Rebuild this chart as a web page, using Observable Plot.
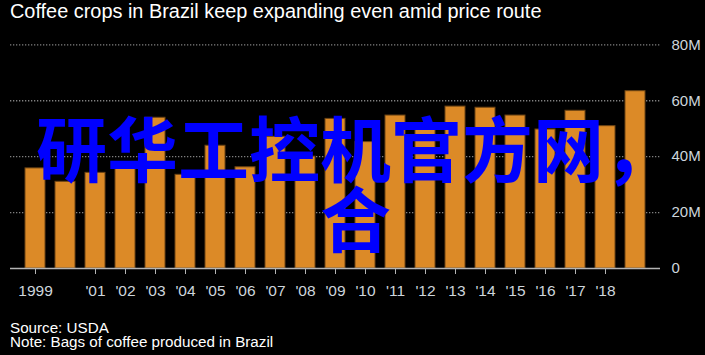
<!DOCTYPE html>
<html>
<head>
<meta charset="utf-8">
<script src="https://cdn.jsdelivr.net/npm/d3@7"></script>
<script src="https://cdn.jsdelivr.net/npm/@observablehq/plot@0.6"></script>
<style>
  html, body { margin: 0; padding: 0; background: #000; }
  #wrap { position: relative; width: 705px; height: 355px; background: #000; overflow: hidden; }
  #chart { position: absolute; left: 0; top: 0; }
  .t { position: absolute; color: #fff; font-family: "Liberation Sans", Arial, sans-serif; white-space: nowrap; line-height: 1; }
  #title { left: 10px; top: 1.5px; font-size: 19.9px; }
  #src { left: 10px; top: 320.4px; font-size: 15.2px; }
  #note { left: 10px; top: 333.8px; font-size: 15.2px; }
  #wm { position: absolute; left: 0; top: 110px; width: 711px; text-align: center;
        font-family: "Noto Sans CJK SC", sans-serif; font-weight: 700; font-size: 71px;
        line-height: 70px; color: #0000ff; white-space: nowrap; }
</style>
</head>
<body>
<div id="wrap">
  <div id="chart"></div>
  <div class="t" id="title"></div>
  <div class="t" id="src"></div>
  <div class="t" id="note"></div>
  <div id="wm"></div>
</div>
<script>
const title = "Coffee crops in Brazil keep expanding even amid price route";
const source = "Source: USDA";
const note = "Note: Bags of coffee produced in Brazil";
const overlayLines = ["研华工控机官方网，", "合"];

const years = [1999, 2000, 2001, 2002, 2003, 2004, 2005, 2006, 2007, 2008, 2009,
               2010, 2011, 2012, 2013, 2014, 2015, 2016, 2017, 2018, 2019];
const bags = [35.8, 31.0, 34.2, 35.6, 53.9, 33.5, 43.9, 36.2, 47.1, 40.0, 53.5,
              45.2, 54.7, 51.0, 57.9, 57.5, 54.7, 49.7, 56.4, 50.9, 63.4];

const tickYears = [1999, 2001, 2002, 2003, 2004, 2005, 2006, 2007, 2008, 2009,
                   2010, 2011, 2012, 2013, 2014, 2015, 2016, 2017, 2018];
const tickLabels = ["1999", "'01", "'02", "'03", "'04", "'05", "'06", "'07", "'08", "'09",
                    "'10", "'11", "'12", "'13", "'14", "'15", "'16", "'17", "'18"];
const yTicks = [0, 20, 40, 60, 80];
const yTickLabels = ["0", "20M", "40M", "60M", "80M"];

document.getElementById("title").textContent = title;
document.getElementById("src").textContent = source;
document.getElementById("note").textContent = note;
document.getElementById("wm").innerHTML = overlayLines.join("<br>");

const data = years.map((y, i) => ({year: y, value: bags[i]}));

const chart = Plot.plot({
  width: 705,
  height: 355,
  marginTop: 44.3,
  marginBottom: 87,
  marginLeft: 10,
  marginRight: 45,
  style: {background: "#000", fontFamily: "'Liberation Sans', Arial, sans-serif", fontSize: "15px", overflow: "visible"},
  x: {type: "band", domain: years, paddingInner: 0.34, paddingOuter: 0.385},
  y: {domain: [0, 80]},
  marks: [
    Plot.ruleY(yTicks.filter(d => d > 0), {stroke: "#808080", strokeWidth: 1.3, strokeDasharray: "1.3,1.7"}),
    Plot.barY(data, {x: "year", y: "value", fill: "#dc8a27", stroke: "#6e4514", strokeWidth: 1, inset: 0}),
    Plot.ruleY([0], {stroke: "#b4b4b4", strokeWidth: 1.5}),
    Plot.axisX({
      ticks: tickYears,
      tickFormat: d => tickLabels[tickYears.indexOf(d)],
      tickSize: 6,
      tickPadding: 10,
      stroke: "#b4b4b4",
      fill: "#cdd5dc",
      fontSize: 15.5,
      label: null
    }),
    Plot.axisY({
      anchor: "right",
      ticks: yTicks,
      tickFormat: d => yTickLabels[yTicks.indexOf(d)],
      tickSize: 0,
      tickPadding: 11,
      fill: "#cdd5dc",
      fontSize: 15,
      label: null
    })
  ]
});
document.getElementById("chart").appendChild(chart);
</script>
</body>
</html>
